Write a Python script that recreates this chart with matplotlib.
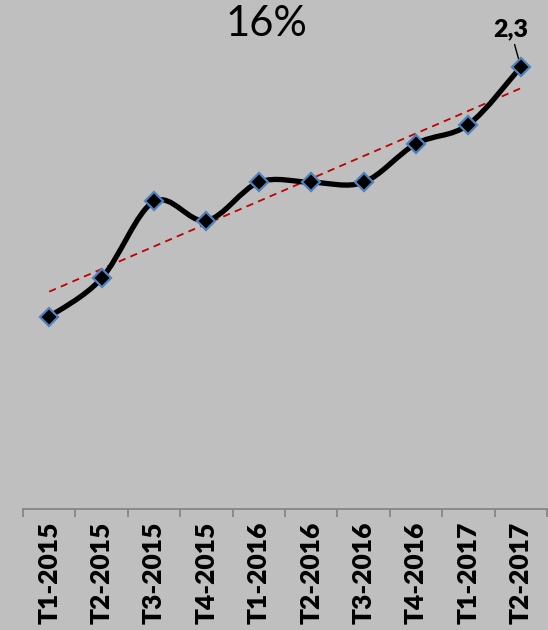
import numpy as np
import matplotlib
matplotlib.use("Agg")
import matplotlib.pyplot as plt
from matplotlib.path import Path
from matplotlib.patches import PathPatch

categories = ["T1-2015", "T2-2015", "T3-2015", "T4-2015", "T1-2016",
              "T2-2016", "T3-2016", "T4-2016", "T1-2017", "T2-2017"]
values = [1.0, 1.2, 1.6, 1.5, 1.7, 1.7, 1.7, 1.9, 2.0, 2.3]
title_text = "16%"
last_label = "2,3"

plt.rcParams['font.family'] = ['Lato', 'DejaVu Sans']
bg = "#BFBFBF"

fig = plt.figure(figsize=(5.48, 6.30), dpi=100, facecolor=bg)
ax = fig.add_axes([23/548, 0.192, 524/548, 0.7628])
ax.set_facecolor(bg)

x = np.arange(len(values), dtype=float)
y = np.array(values, dtype=float)

# Excel-like smoothed line (Catmull-Rom via cubic Bezier)
P = np.column_stack([x, y])
Pext = np.vstack([P[0], P, P[-1]])
verts = [tuple(P[0])]
codes = [Path.MOVETO]
for i in range(len(P) - 1):
    p0, p1, p2, p3 = Pext[i], Pext[i+1], Pext[i+2], Pext[i+3]
    c1 = p1 + (p2 - p0) / 6.0
    c2 = p2 - (p3 - p1) / 6.0
    verts += [tuple(c1), tuple(c2), tuple(p2)]
    codes += [Path.CURVE4] * 3
ax.add_patch(PathPatch(Path(verts, codes), facecolor='none', edgecolor='black',
                       lw=3.8, capstyle='round', joinstyle='round', zorder=3))

# Linear trend line
k, b = np.polyfit(x, y, 1)
ax.plot(x, k * x + b, color='#C00000', lw=1.3, ls=(0, (4, 3)), zorder=2)

# markers
ax.plot(x, y, ls='none', marker='D', ms=9.5, mfc='black', mec='#4F81BD',
        mew=1.6, zorder=4)

ax.annotate(last_label, xy=(x[-1], y[-1]), xytext=(-7.5, 27),
            textcoords='offset points', ha='center', va='center',
            fontsize=18, fontweight='heavy',
            arrowprops=dict(arrowstyle='-', color='black', lw=1.0,
                            shrinkA=1, shrinkB=5))

ax.set_xlim(-0.5, len(values) - 0.5)
ax.set_ylim(0, 2.5)
for s in ['left', 'right', 'top']:
    ax.spines[s].set_visible(False)
ax.spines['bottom'].set_color('#868686')
ax.spines['bottom'].set_linewidth(1.3)
ax.set_yticks([])

ax.set_xticks(x)
ax.set_xticklabels(categories, rotation=90, fontsize=19, fontweight='heavy')
ax.tick_params(axis='x', which='major', length=0, pad=9)
ax.set_xticks(np.arange(-0.5, len(values) + 0.5, 1.0), minor=True)
ax.tick_params(axis='x', which='minor', length=6, width=1.3, color='#868686')

fig.text(266/548, 1 - 24/630, title_text, ha='center', va='center', fontsize=30)

fig.savefig("out.png", dpi=100, facecolor=bg)
